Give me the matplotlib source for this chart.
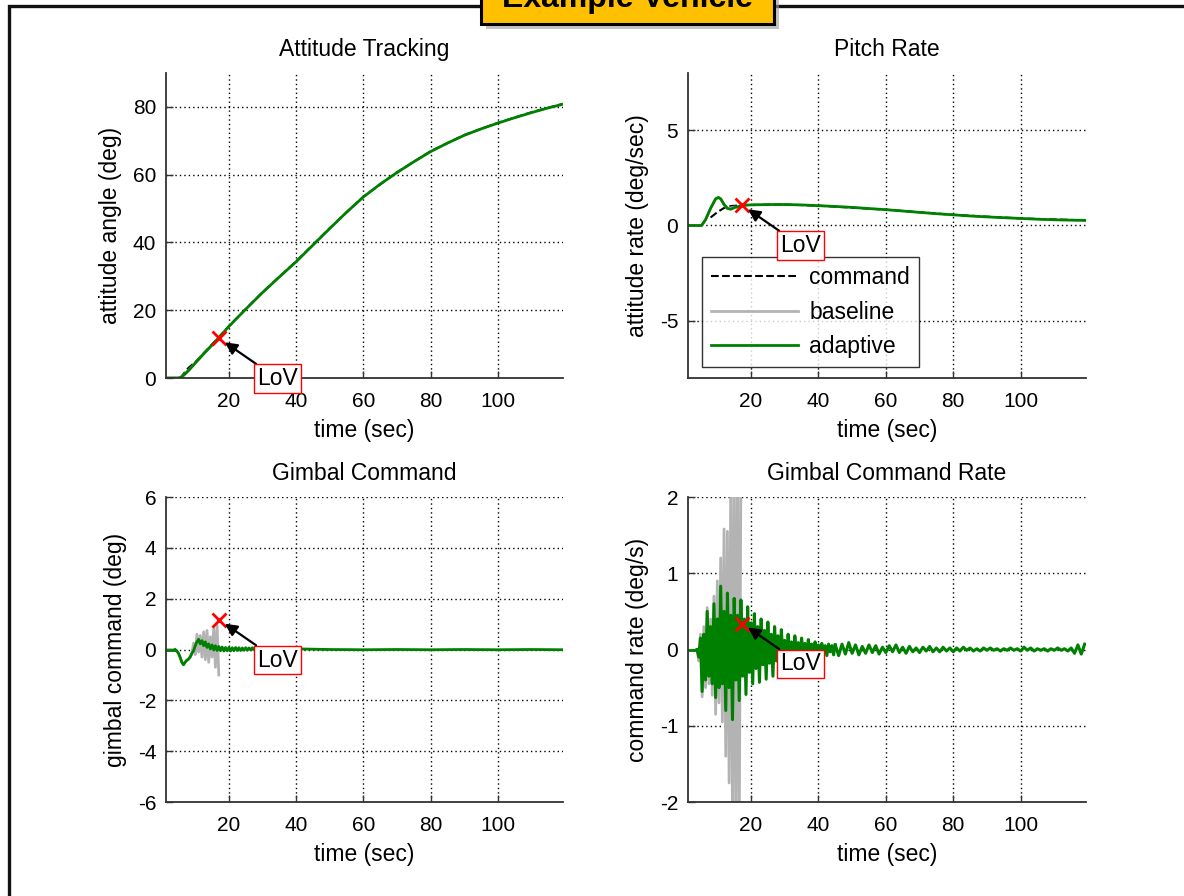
import numpy as np
import matplotlib
matplotlib.use("Agg")
import matplotlib.pyplot as plt
from matplotlib.patches import Rectangle

plt.rcParams['font.family'] = ['Liberation Sans', 'DejaVu Sans']
plt.rcParams['axes.unicode_minus'] = False

# ---------------- data ----------------
T_MIN, T_MAX = 1.3, 119.4
x_ticks = [20, 40, 60, 80, 100]

# Attitude tracking (deg)
att_t = [1.3, 5, 6, 8, 10, 12, 14, 17, 20, 25, 30, 35, 40, 45, 50, 55, 60, 65,
         70, 75, 80, 85, 90, 95, 100, 105, 110, 115, 119.4]
att_adapt = [0, 0, 0.3, 2.2, 4.4, 6.6, 8.7, 11.9, 15.2, 20.3, 25.2, 29.8, 34.3,
             39.2, 44.1, 48.9, 53.4, 57.2, 60.6, 63.8, 66.8, 69.3, 71.6, 73.5,
             75.2, 76.8, 78.3, 79.7, 80.8]
att_cmd_t = [5.5, 8, 10, 12, 14, 17, 20, 30, 40, 50, 60, 70, 80, 90, 100, 110, 119.4]
att_cmd = [0, 3.0, 4.7, 6.8, 8.9, 12.0, 15.3, 25.3, 34.4, 44.2, 53.5, 60.7,
           66.9, 71.7, 75.3, 78.4, 80.9]
att_base_t = [1.3, 5, 6, 8, 10, 12, 14, 17.1]
att_base = [0, 0, 0.3, 2.2, 4.4, 6.6, 8.7, 11.7]

# Pitch rate (deg/sec)
rate_t = [1.3, 5.3, 6.5, 8, 9.5, 10.3, 11, 12, 13, 14, 15.2, 16, 17.4, 20, 25,
          30, 35, 40, 45, 50, 55, 60, 65, 70, 75, 80, 85, 90, 95, 100, 105,
          110, 115, 119.4]
rate_adapt = [0, 0, 0.3, 0.9, 1.4, 1.47, 1.4, 1.1, 0.9, 0.85, 0.95, 0.98, 1.06,
              1.08, 1.1, 1.1, 1.08, 1.04, 1.0, 0.95, 0.89, 0.83, 0.76, 0.69,
              0.62, 0.56, 0.5, 0.45, 0.41, 0.37, 0.33, 0.3, 0.28, 0.27]
rate_cmd_t = [8, 10, 12, 14, 17, 20, 30, 40, 60, 80, 100, 119.4]
rate_cmd = [0.42, 0.7, 0.92, 1.02, 1.06, 1.08, 1.1, 1.04, 0.83, 0.56, 0.37, 0.27]
rate_base_t = [1.3, 5.3, 6.5, 8, 9.5, 10.3, 11, 12, 13, 14, 15.2, 16, 17.4]
rate_base = [0, 0, 0.3, 0.9, 1.4, 1.47, 1.4, 1.1, 0.88, 0.92, 0.97, 0.95, 1.06]

# Gimbal command (deg)
gim_t0 = [1.3, 4.0]
gim_v0 = [0.0, 0.0]
gim_dense_t = np.arange(4.0, 40.01, 0.5)
gim_adapt_dense = [0.0, -0.05, -0.15, -0.3, -0.5, -0.6, -0.5, -0.42, -0.38, -0.3,
                   -0.15, -0.05, 0.15, 0.3, 0.4, 0.22, 0.35, 0.15, 0.3, 0.08,
                   0.22, 0.02, 0.18, -0.02, 0.15, -0.04, 0.12, -0.05, 0.1, -0.06,
                   0.08, -0.05, 0.08, -0.06, 0.07, -0.05, 0.08, -0.04, 0.07, -0.04,
                   0.06, -0.03, 0.07, -0.03, 0.06, -0.02, 0.07, -0.01, 0.06, 0.0,
                   0.07, 0.01, 0.06, 0.02, 0.07, 0.02, 0.06, 0.03, 0.07, 0.03,
                   0.06, 0.04, 0.07, 0.04, 0.06, 0.04, 0.07, 0.04, 0.06, 0.05,
                   0.07, 0.05, 0.05]
gim_tail_t = [42, 50, 60, 70, 80, 90, 100, 110, 119.4]
gim_tail = [0.02, 0.0, -0.01, 0.0, -0.01, 0.0, -0.01, 0.0, -0.01]
gim_base_t = [1.3, 4.0, 5.0, 6.0, 6.5, 7.0, 8.0, 9.0, 9.5, 10.0, 10.5, 11.0, 11.5,
              12.0, 12.5, 13.0, 13.5, 14.0, 14.5, 15.0, 15.5, 16.0, 16.5, 17.0]
gim_base = [0.0, 0.0, -0.15, -0.5, -0.6, -0.5, -0.38, -0.15, 0.25, -0.2, 0.6,
            -0.1, 0.55, -0.3, 0.7, -0.4, 0.75, -0.5, 0.5, -0.3, 0.85, -0.7,
            0.95, -1.0]

# Gimbal command rate (deg/s)
gr_t0 = [1.3, 4.0]
gr_v0 = [0.0, 0.0]
gr_dense_t = np.arange(4.0, 45.01, 0.5)
gr_adapt_dense = [0.0, -0.1, 0.15, -0.55, 0.2, -0.4, 0.5, -0.35, 0.3, -0.45,
                  0.6, -0.63, 0.4, -0.5, 0.83, -0.45, 0.5, -0.8, 0.74, -0.5,
                  0.45, -0.92, 0.67, -0.4, 0.45, -0.67, 0.65, -0.35, 0.4, -0.59,
                  0.56, -0.3, 0.35, -0.45, 0.47, -0.25, 0.3, -0.43, 0.4, -0.2,
                  0.25, -0.39, 0.36, -0.18, 0.2, -0.35, 0.3, -0.15, 0.18, -0.3,
                  0.26, -0.12, 0.12, -0.22, 0.2, -0.08, 0.1, -0.19, 0.18, -0.07,
                  0.09, -0.16, 0.15, -0.06, 0.08, -0.13, 0.13, -0.05, 0.07, -0.11,
                  0.1, -0.04, 0.06, -0.09, 0.08, -0.04, 0.05, -0.08, 0.07, -0.03,
                  0.05, -0.07, 0.06]
gr_tail_t = np.arange(46.0, 119.01, 1.0)
gr_tail = [-0.08, 0.07, -0.06, 0.09, -0.05, 0.06, -0.07, 0.04, -0.05, 0.06,
           -0.04, 0.05, -0.06, 0.03, -0.04, 0.05, -0.03, 0.06, -0.04, 0.03,
           -0.05, 0.04, -0.03, 0.02, -0.04, 0.03, -0.02, 0.04, -0.03, 0.02,
           -0.03, 0.03, -0.02, 0.02, -0.03, 0.02, -0.02, 0.03, -0.01, 0.02,
           -0.02, 0.01, -0.02, 0.02, -0.01, 0.02, -0.01, 0.01, -0.02, 0.01,
           -0.01, 0.02, -0.01, 0.01, -0.02, 0.03, -0.01, 0.02, -0.02, 0.01,
           -0.01, 0.01, -0.02, 0.01, -0.01, 0.02, -0.01, 0.01, -0.02, 0.02,
           -0.05, 0.06, -0.06, 0.07]
gr_base_t = np.arange(4.0, 17.01, 0.5)
gr_base = [0.0, -0.15, 0.2, -0.62, 0.3, -0.5, 0.55, -0.45, 0.4, -0.6, 0.7,
           -0.85, 0.9, -0.7, 1.2, -0.95, 1.58, -1.4, 1.55, -1.75, 2.3, -2.3,
           2.5, -2.6, 2.6, -2.5, 2.4]

# Loss-of-vehicle points  (t, value) per panel
lov_t = [17.1, 17.4, 17.1, 17.4]
lov_y = [11.7, 1.06, 1.17, 0.34]

titles = ["Attitude Tracking", "Pitch Rate", "Gimbal Command", "Gimbal Command Rate"]
ylabels = ["attitude angle (deg)", "attitude rate (deg/sec)",
           "gimbal command (deg)", "command rate (deg/s)"]
ylims = [(0, 90), (-8, 8), (-6, 6), (-2, 2)]
yticks = [[0, 20, 40, 60, 80], [-5, 0, 5], [-6, -4, -2, 0, 2, 4, 6], [-2, -1, 0, 1, 2]]
legend_labels = ["command", "baseline", "adaptive"]

# ---------------- styling ----------------
GREEN = '#008000'
GRAY = '#b3b3b3'
SPINE = '#333333'
W, H = 1184, 896

fig = plt.figure(figsize=(W / 100, H / 100), dpi=100)

# outer frame
fig.patches.append(Rectangle((9 / W, -0.05), 1.2, 1 - 6 / H + 0.05,
                             transform=fig.transFigure, fill=False,
                             ec='#111111', lw=2.4, zorder=0))
# title box with shadow
bx0, bx1, by0 = 481 / W, 774 / W, 1 - 24 / H
fig.patches.append(Rectangle((bx0 + 5 / W, by0 - 5 / H), bx1 - bx0, 0.1,
                             transform=fig.transFigure, fc='#9a9a9a', ec='none',
                             alpha=0.6, zorder=1))
fig.patches.append(Rectangle((bx0, by0), bx1 - bx0, 0.1,
                             transform=fig.transFigure, fc='#FFC000', ec='black',
                             lw=2.2, zorder=2))
fig.text((bx0 + bx1) / 2, 1 - 7 / H, "Example Vehicle", ha='center', va='baseline',
         fontsize=23, fontweight='bold', zorder=3)

positions = [(166, 73, 563, 378), (688, 73, 1086, 378),
             (166, 497, 563, 802), (688, 497, 1086, 802)]
axes = []
for (l, t, r, b) in positions:
    ax = fig.add_axes([l / W, 1 - b / H, (r - l) / W, (b - t) / H])
    axes.append(ax)

for i, ax in enumerate(axes):
    ax.set_xlim(T_MIN, T_MAX)
    ax.set_ylim(*ylims[i])
    ax.set_xticks(x_ticks)
    ax.set_yticks(yticks[i])
    ax.set_title(titles[i], fontsize=16.5, pad=12)
    ax.set_xlabel("time (sec)", fontsize=16.5, labelpad=6)
    ax.set_ylabel(ylabels[i], fontsize=16.5, labelpad=8)
    ax.grid(True, color='black', lw=1.0, linestyle=(0, (1, 2.2)))
    ax.spines['top'].set_visible(False)
    ax.spines['right'].set_visible(False)
    for s in ('left', 'bottom'):
        ax.spines[s].set_color(SPINE)
        ax.spines[s].set_linewidth(1.3)
    ax.tick_params(direction='in', length=5, width=1, colors=SPINE,
                   labelcolor='black', labelsize=15)
    ax.tick_params(axis='x', pad=10)
    ax.tick_params(axis='y', pad=7)
    ax.set_axisbelow(True)

# Attitude
ax = axes[0]
ax.plot(att_cmd_t, att_cmd, '--', color='black', lw=1.5)
ax.plot(att_base_t, att_base, color=GRAY, lw=2)
ax.plot(att_t, att_adapt, color=GREEN, lw=2)

# Pitch rate
ax = axes[1]
h1, = ax.plot(rate_cmd_t, rate_cmd, '--', color='black', lw=1.5)
h2, = ax.plot(rate_base_t, rate_base, color=GRAY, lw=2)
h3, = ax.plot(rate_t, rate_adapt, color=GREEN, lw=2)
leg = ax.legend([h1, h2, h3], legend_labels, loc='lower left',
                bbox_to_anchor=(0.034, 0.035), fontsize=16.5, frameon=True,
                fancybox=False, edgecolor='black', handlelength=3.8,
                handletextpad=0.5, labelspacing=0.5, borderpad=0.4,
                borderaxespad=0)
leg.get_frame().set_linewidth(1.0)

# Gimbal command
ax = axes[2]
ax.plot(gim_base_t, gim_base, color=GRAY, lw=2)
ax.plot(gim_t0, gim_v0, color=GREEN, lw=2)
ax.plot(gim_dense_t, gim_adapt_dense, color=GREEN, lw=2)
ax.plot(gim_tail_t, gim_tail, color=GREEN, lw=2)

# Gimbal command rate
ax = axes[3]
ax.plot(gr_base_t, gr_base, color=GRAY, lw=2)
ax.plot(gr_t0, gr_v0, color=GREEN, lw=2)
ax.plot(gr_dense_t, gr_adapt_dense, color=GREEN, lw=2.2)
ax.plot(np.concatenate([[gr_dense_t[-1]], gr_tail_t]),
        np.concatenate([[gr_adapt_dense[-1]], gr_tail]), color=GREEN, lw=2.2)

for i, ax in enumerate(axes):
    ax.plot(lov_t[i], lov_y[i], 'x', color='red', ms=10, mew=2, zorder=6,
            clip_on=False)
    ax.annotate("LoV", xy=(lov_t[i], lov_y[i]), xytext=(42, -29),
                textcoords='offset points', ha='center', va='center',
                fontsize=16.5, zorder=7,
                bbox=dict(boxstyle='square,pad=0.12', fc='white', ec='red', lw=1),
                arrowprops=dict(arrowstyle='-|>', color='black', lw=1.6,
                                shrinkA=0, shrinkB=5, mutation_scale=18))

fig.savefig("out.png", dpi=100)
